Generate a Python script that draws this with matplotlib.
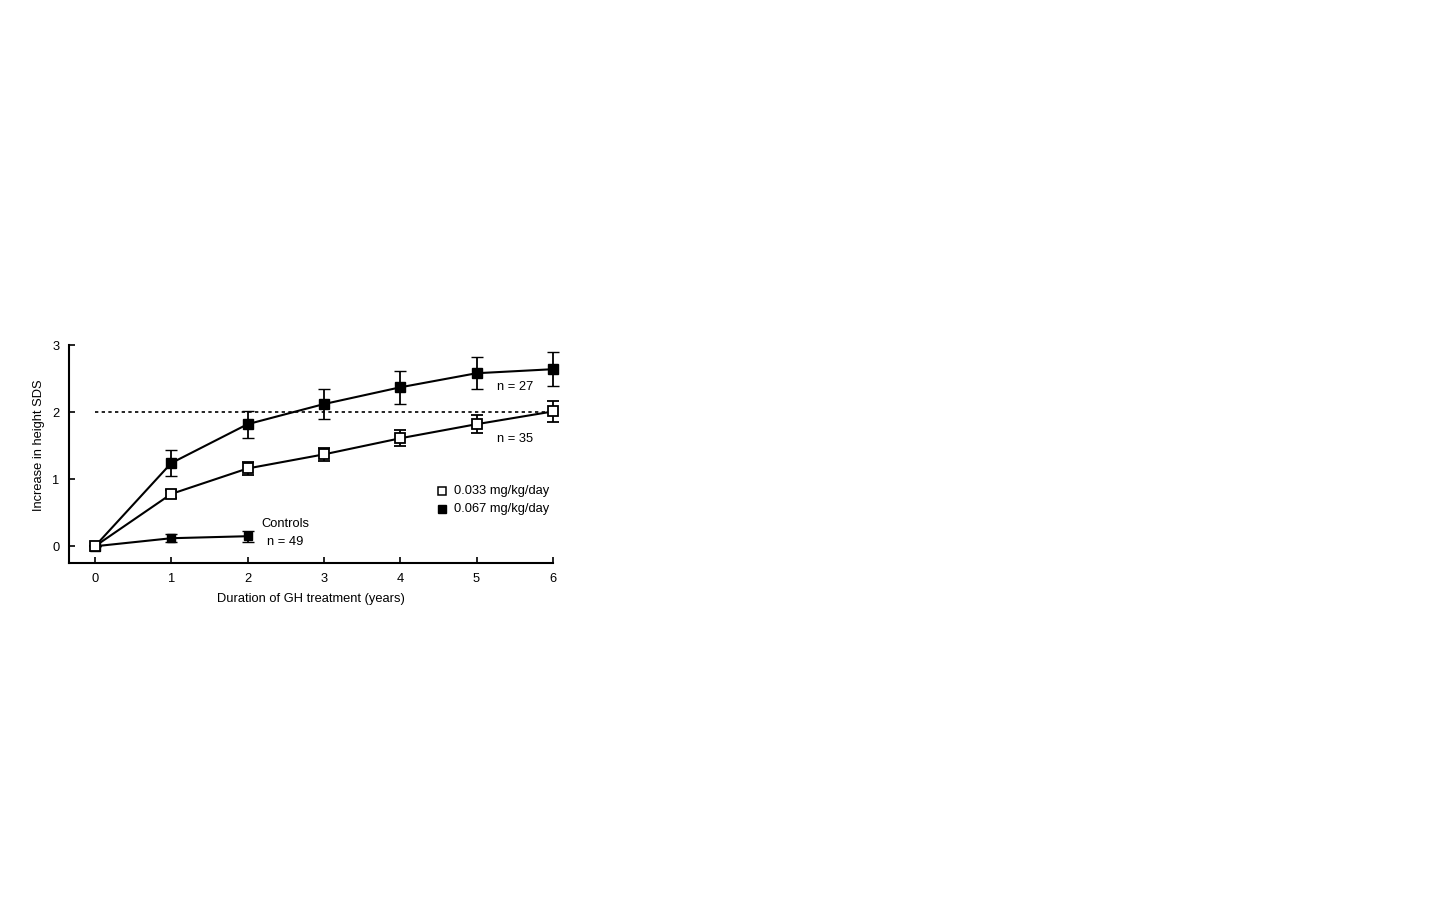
import numpy as np
import matplotlib.pyplot as plt

plt.rcParams['font.family'] = ['Liberation Sans', 'DejaVu Sans']
plt.rcParams['font.size'] = 9.3

years = [0, 1, 2, 3, 4, 5, 6]
high_dose = [0, 1.24, 1.82, 2.12, 2.37, 2.58, 2.64]
high_err = [0, 0.19, 0.20, 0.22, 0.25, 0.24, 0.25]
low_dose = [0, 0.78, 1.16, 1.37, 1.61, 1.82, 2.01]
low_err = [0, 0.06, 0.09, 0.10, 0.12, 0.13, 0.15]
ctrl_years = [0, 1, 2]
controls = [0, 0.12, 0.15]
ctrl_err = [0, 0.06, 0.08]

fs = 9.3

fig = plt.figure(figsize=(14.4, 9), dpi=100)
ax = fig.add_axes([0.0479, 0.3744, 0.336, 0.2422])

ax.hlines(2, 0, 6, colors='black', linestyles=(0, (2, 2)), linewidth=1.2)

ax.errorbar(ctrl_years, controls, yerr=ctrl_err, color='black', marker='s',
            markersize=5.5, mfc='black', mec='black', lw=1.5, capsize=4,
            elinewidth=1.3, clip_on=False, zorder=3)
ax.errorbar(years, high_dose, yerr=high_err, color='black', marker='s',
            markersize=6.5, mfc='black', mec='black', lw=1.5, capsize=4,
            elinewidth=1.3, clip_on=False, zorder=3)
ax.errorbar(years, low_dose, yerr=low_err, color='black', marker='s',
            markersize=6.5, mfc='white', mec='black', mew=1.3, lw=1.5,
            capsize=4, elinewidth=1.3, clip_on=False, zorder=4)

ax.text(5.5, 2.37, 'n = 27', fontsize=fs, va='center', ha='center')
ax.text(5.5, 1.6, 'n = 35', fontsize=fs, va='center', ha='center')
ax.text(2.49, 0.33, 'Controls', fontsize=fs, va='center', ha='center')
ax.text(2.49, 0.07, 'n = 49', fontsize=fs, va='center', ha='center')

ax.plot([4.55], [0.83], marker='s', markersize=5.5, mfc='white', mec='black',
        mew=1.1, ls='none')
ax.plot([4.55], [0.55], marker='s', markersize=5.5, mfc='black', mec='black',
        ls='none')
ax.text(4.7, 0.83, '0.033 mg/kg/day', fontsize=fs, va='center')
ax.text(4.7, 0.55, '0.067 mg/kg/day', fontsize=fs, va='center')

ax.set_xlim(-0.34, 6.0)
ax.set_ylim(-0.25, 3.0)
ax.set_xticks(years)
ax.set_yticks([0, 1, 2, 3])
ax.tick_params(direction='in', length=4, width=1.2, labelsize=fs, pad=7)
ax.spines['top'].set_visible(False)
ax.spines['right'].set_visible(False)
ax.spines['left'].set_linewidth(1.5)
ax.spines['bottom'].set_linewidth(1.5)
ax.set_xlabel('Duration of GH treatment (years)', fontsize=fs, labelpad=6)
ax.set_ylabel('Increase in height SDS', fontsize=fs)
ax.yaxis.set_label_coords(-0.05, 0.54)

plt.savefig('out.png', dpi=100)
